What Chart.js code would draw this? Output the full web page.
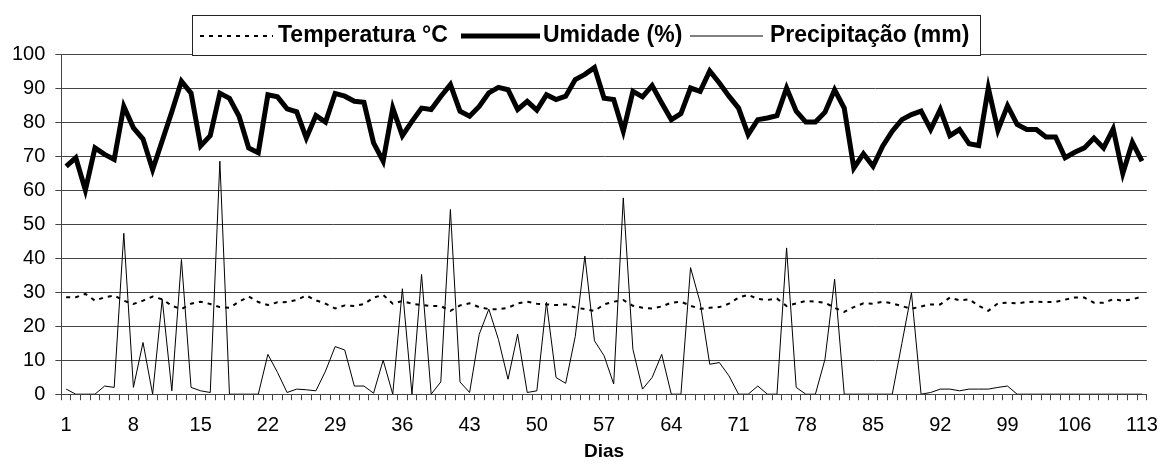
<!DOCTYPE html>
<html><head><meta charset="utf-8">
<script src="https://cdn.jsdelivr.net/npm/chart.js@4.4.1/dist/chart.umd.min.js"></script>
<style>html,body{margin:0;padding:0;background:#fff}#wrap{width:1171px;height:464px;position:relative}</style>
</head><body><div id="wrap"><canvas id="c"></canvas></div>
<script>
const days = [1,2,3,4,5,6,7,8,9,10,11,12,13,14,15,16,17,18,19,20,21,22,23,24,25,26,27,28,29,30,31,32,33,34,35,36,37,38,39,40,41,42,43,44,45,46,47,48,49,50,51,52,53,54,55,56,57,58,59,60,61,62,63,64,65,66,67,68,69,70,71,72,73,74,75,76,77,78,79,80,81,82,83,84,85,86,87,88,89,90,91,92,93,94,95,96,97,98,99,100,101,102,103,104,105,106,107,108,109,110,111,112,113];
const tickDays = [1,8,15,22,29,36,43,50,57,64,71,78,85,92,99,106,113];
const yTicks = [0,10,20,30,40,50,60,70,80,90,100];

const temperatura = [28.5,28.5,29.5,27.5,28.5,29,27.5,26.5,27.5,28.7,
27.9,26,25,26.6,27.2,26.5,25.6,25.4,27.2,28.7,
27.1,26.2,27,27.1,27.7,29,27.6,26.6,25.2,26.1,
25.9,26.5,28.4,29.2,26.6,27.4,26.6,26.2,25.9,25.9,
24.5,26.1,26.7,25.6,25,25,25.4,26.7,27.2,26.6,
26.4,26.2,26.4,25.5,25,24.5,26.4,27.2,27.7,26,
25.4,25.2,25.8,26.9,27.2,26,25.1,25.4,25.6,26.6,
28.4,29.2,28,27.7,28.1,25.9,26.7,27.4,27.2,26.9,
25.4,24.2,25.6,26.7,26.6,27.2,26.7,25.9,25.1,25.8,
26.4,26.4,28.4,27.6,27.9,26,24.5,26.7,26.9,26.7,
27.1,27.2,27.1,27.1,27.8,28.4,28.4,26.9,26.9,27.9,
27.5,27.9,28.7];

const umidade = [67,69.5,60,72.4,70.5,69,84.6,78.3,75,66,
74.5,83,92,88.5,73,76,88.5,87,81.7,72.4,
71,88,87.4,83.9,83,75.3,81.9,80,88.4,87.6,
86.1,85.8,73.9,68.5,84.1,76,80.2,84.1,83.7,87.5,
91,83.2,81.7,84.6,88.6,90.2,89.5,83.7,86.1,83.5,
88,86.6,87.6,92.5,94,96,87,86.6,77.3,89,
87.4,90.7,85.6,80.7,82.5,90,89,95,91.5,87.6,
84.1,76.3,80.7,81.2,81.9,90,83.2,80,80,82.9,
89.5,84.1,66.5,70.7,67,72.9,77.3,80.7,82.2,83.2,
77.8,83.7,76,77.8,73.6,73.1,90,77.6,84.8,79.3,
77.8,77.8,75.6,75.6,69.5,71.1,72.4,75.3,72.4,78,
64.9,74,68.5];

const precipitacao = [1.5,0,0,0,2.4,2,47.3,2,15.2,0,
27.9,1,39.6,2,1,0.5,68.5,0,0,0,
0,11.7,6.4,0.5,1.5,1.3,1,6.8,14,13,
2.4,2.4,0.3,10,0,31,0,35.2,0,3.6,
54.3,3.6,0.5,17.6,25,16.1,4.4,17.6,0.5,1,
27,4.9,3.2,17,40.6,15.7,11.3,3,57.7,13.2,
1.5,4.9,11.7,0,0,37.2,27,8.8,9.3,5.4,
0,0,2.4,0,0,43,2,0,0,10.3,
33.8,0,0,0,0,0,0,14.9,29.8,0,
0.5,1.5,1.5,1,1.5,1.5,1.5,2,2.4,0,
0,0,0,0,0,0,0,0,0,0,
0,0,0];

const seriesNames = ['Temperatura \u00B0C','Umidade (%)','Precipita\u00E7\u00E3o (mm)'];
const xTitle = 'Dias';

const FONT = '"Liberation Sans", Arial, sans-serif';

// legend layout (pixel offsets from box left): line start, line end, text start
const legendItems = [
  { l0: 8, l1: 81, t: 86 },
  { l0: 269, l1: 348, t: 351 },
  { l0: 498, l1: 571, t: 578 }
];

const boxLegend = {
  id: 'boxLegend',
  afterDraw(chart) {
    const ctx = chart.ctx, ca = chart.chartArea;
    const boxW = 788, boxTop = 15, boxBottom = Math.round(ca.top) + 1;
    const boxLeft = Math.round(chart.width / 2 - boxW / 2);
    ctx.save();
    ctx.fillStyle = '#fff';
    ctx.fillRect(boxLeft, boxTop, boxW, boxBottom - boxTop);
    ctx.strokeStyle = '#222';
    ctx.lineWidth = 1;
    ctx.strokeRect(boxLeft + 0.5, boxTop + 0.5, boxW, boxBottom - boxTop);
    ctx.font = 'bold 23px ' + FONT;
    ctx.textBaseline = 'middle';
    ctx.fillStyle = '#000';
    const cy = (boxTop + boxBottom) / 2 + 1;
    chart.data.datasets.forEach((ds, i) => {
      const it = legendItems[i];
      ctx.save();
      ctx.strokeStyle = ds.borderColor;
      ctx.lineWidth = ds.borderWidth;
      ctx.setLineDash(ds.borderDash || []);
      ctx.beginPath();
      ctx.moveTo(boxLeft + it.l0, cy);
      ctx.lineTo(boxLeft + it.l1, cy);
      ctx.stroke();
      ctx.restore();
      ctx.fillText(seriesNames[i], boxLeft + it.t, cy);
    });
    ctx.restore();
  }
};

new Chart(document.getElementById('c'), {
  type: 'line',
  data: {
    labels: days,
    datasets: [
      { label: seriesNames[0], data: temperatura, borderColor: '#000', borderWidth: 2, borderDash: [4, 5], pointRadius: 0, tension: 0, fill: false },
      { label: seriesNames[1], data: umidade, borderColor: '#000', borderWidth: 5, pointRadius: 0, tension: 0, fill: false, borderJoinStyle: 'miter' },
      { label: seriesNames[2], data: precipitacao, borderColor: '#000', borderWidth: 1, pointRadius: 0, tension: 0, fill: false }
    ]
  },
  options: {
    responsive: true,
    maintainAspectRatio: false,
    animation: false,
    devicePixelRatio: 1,
    layout: { padding: { top: 54, left: 2, right: 14, bottom: 1 } },
    plugins: { legend: { display: false }, tooltip: { enabled: false } },
    scales: {
      x: {
        type: 'category',
        offset: true,
        grid: { display: true, drawOnChartArea: false, drawTicks: true, tickLength: 6, offset: true, color: '#444' },
        border: { display: true, color: '#444', width: 1 },
        ticks: {
          autoSkip: false, maxRotation: 0, minRotation: 0, padding: 13,
          color: '#000', font: { family: FONT, size: 20 },
          callback: function (v, i) { const d = days[i]; return tickDays.includes(d) ? String(d) : ''; }
        },
        title: { display: true, text: xTitle, color: '#000', font: { family: FONT, size: 19, weight: 'bold' }, padding: { top: -10, bottom: 0 } }
      },
      y: {
        min: yTicks[0], max: yTicks[yTicks.length - 1],
        grid: { color: '#444', tickLength: 6, drawTicks: true },
        border: { display: true, color: '#444', width: 1 },
        ticks: { stepSize: 10, padding: 10, color: '#000', font: { family: FONT, size: 20 } }
      }
    }
  },
  plugins: [boxLegend]
});
</script>
</body></html>
